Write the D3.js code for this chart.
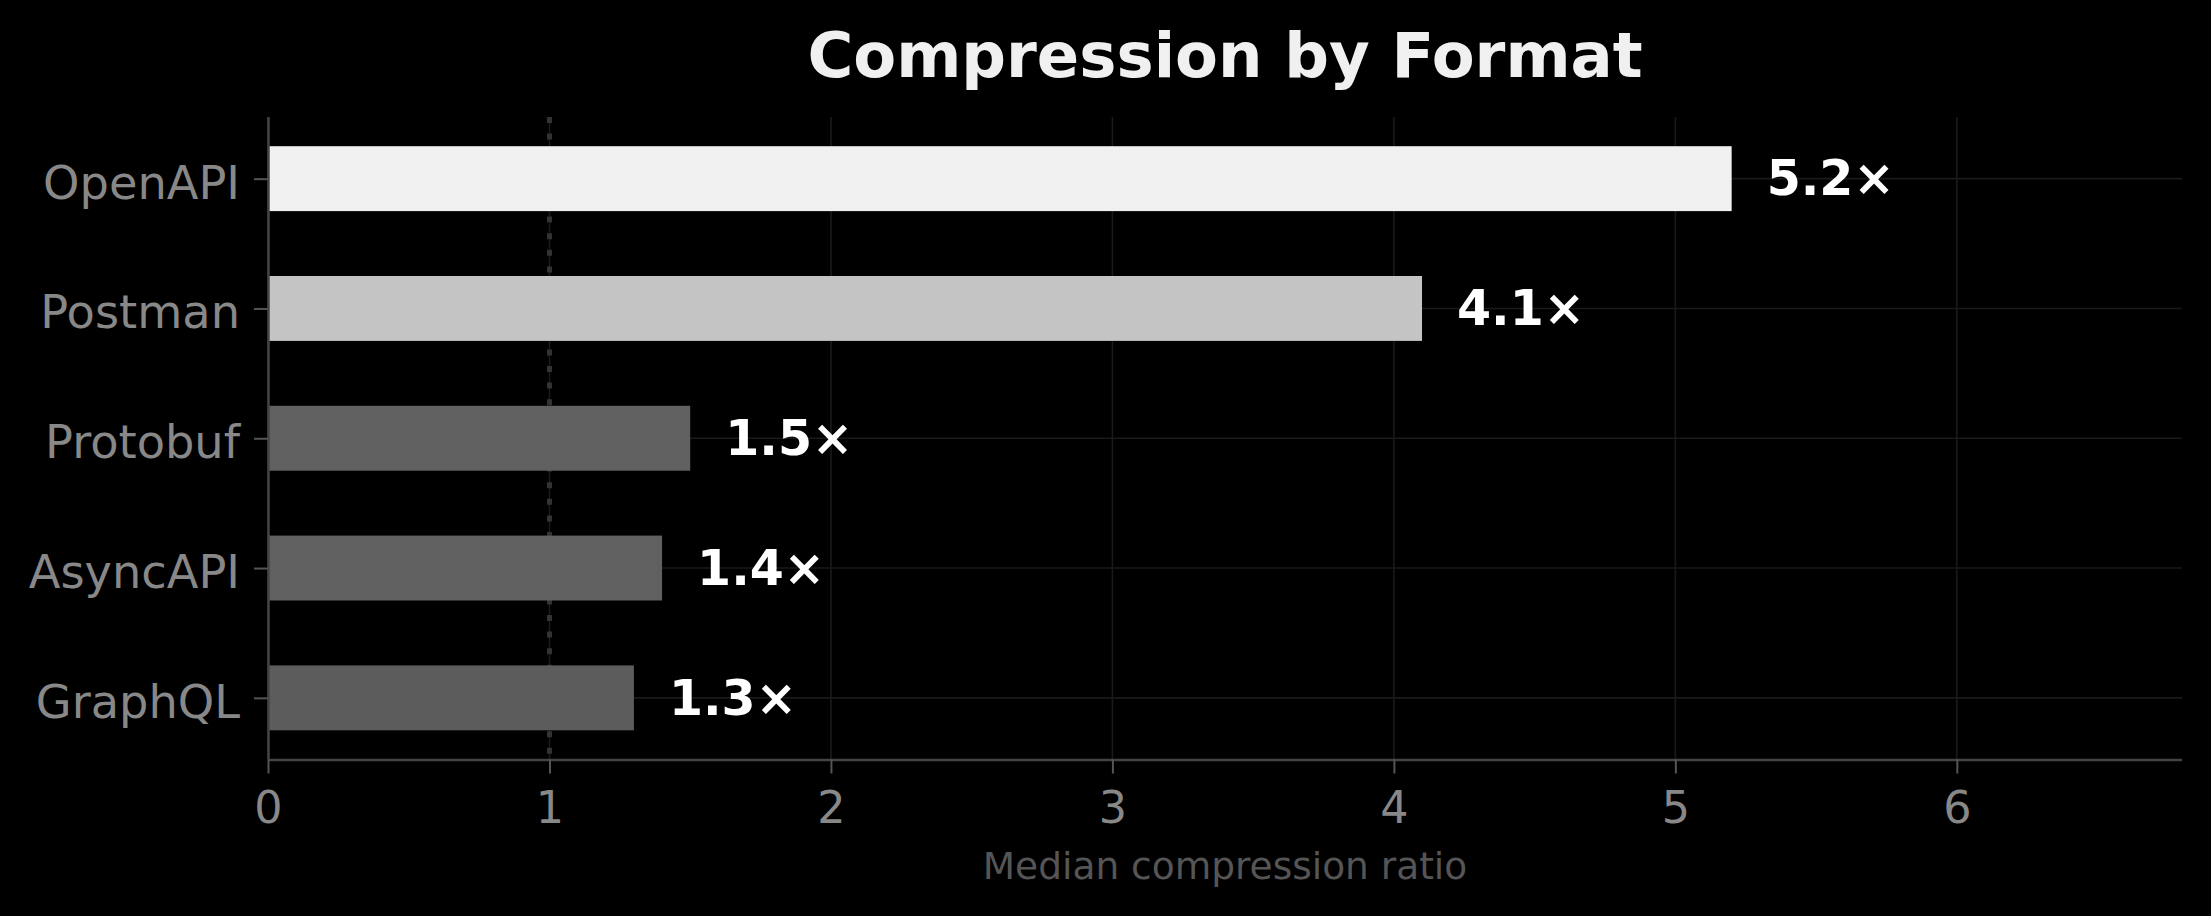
<!DOCTYPE html>
<html>
<head>
<meta charset="utf-8">
<script src="https://cdn.jsdelivr.net/npm/d3@7"></script>
<style>
  html, body { margin: 0; padding: 0; background: #000; }
  svg { display: block; }
  text { font-family: "DejaVu Sans", sans-serif; }
</style>
</head>
<body>
<script>
// ---- data ----
const categories = ["OpenAPI", "Postman", "Protobuf", "AsyncAPI", "GraphQL"];
const ratios = [5.2, 4.1, 1.5, 1.4, 1.3];
const xTicks = [0, 1, 2, 3, 4, 5, 6];
const valueLabels = ["5.2×", "4.1×", "1.5×", "1.4×", "1.3×"];
const titleText = "Compression by Format";
const xAxisLabel = "Median compression ratio";
const referenceValue = 1;

(function () {
// ---- layout ----
const W = 2211, H = 916;
const mLeft = 268, mRight = 2182, mTop = 117, mBottom = 759.5;

const svg = d3.select("body").append("svg")
  .attr("width", W).attr("height", H)
  .style("background", "#000");

const x = d3.scaleLinear().domain([0, 6.8]).range([mLeft, mRight]);
const y = d3.scaleLinear().domain([-0.475, categories.length - 1 + 0.475]).range([mTop, mBottom]);
const barH = y(0.25) - y(-0.25);

const color = d3.scaleOrdinal()
  .domain(categories)
  .range(["#f0f0f0", "#c4c4c4", "#606060", "#606060", "#5c5c5c"]);

// gridlines
const grid = svg.append("g");
grid.selectAll("line.vg").data(xTicks).join("line")
  .attr("class", "vg")
  .attr("x1", d => x(d)).attr("x2", d => x(d))
  .attr("y1", mTop).attr("y2", mBottom)
  .attr("stroke", "#1a1a1a").attr("stroke-width", 1.6);
grid.selectAll("line.hg").data(categories).join("line")
  .attr("class", "hg")
  .attr("x1", mLeft).attr("x2", mRight)
  .attr("y1", (d, i) => y(i)).attr("y2", (d, i) => y(i))
  .attr("stroke", "#1a1a1a").attr("stroke-width", 1.6);

// reference dotted line
svg.append("line")
  .attr("x1", x(referenceValue)).attr("x2", x(referenceValue))
  .attr("y1", mTop).attr("y2", mBottom)
  .attr("stroke", "#333").attr("stroke-width", 5)
  .attr("stroke-dasharray", "6 10.6");

// bars
svg.append("g").selectAll("rect").data(ratios).join("rect")
  .attr("x", x(0))
  .attr("y", (d, i) => y(i) - barH / 2)
  .attr("width", d => x(d) - x(0))
  .attr("height", barH)
  .attr("fill", (d, i) => color(categories[i]));

// value labels
svg.append("g").selectAll("text").data(ratios).join("text")
  .attr("x", d => x(d) + 35)
  .attr("y", (d, i) => y(i))
  .attr("dy", "0.34em")
  .attr("fill", "#ffffff")
  .attr("font-weight", "bold")
  .attr("font-size", 49)
  .text((d, i) => valueLabels[i]);

// x axis
const xAxis = d3.axisBottom(x).tickValues(xTicks).tickSize(14).tickPadding(14)
  .tickFormat(d3.format("d"));
const gx = svg.append("g").attr("transform", `translate(0,${mBottom})`).call(xAxis);
gx.select(".domain").attr("stroke", "#444").attr("stroke-width", 2.5)
  .attr("d", `M${mLeft},0.5H${mRight}`);
gx.selectAll(".tick line").attr("stroke", "#555").attr("stroke-width", 2);
gx.selectAll(".tick text").attr("fill", "#888").attr("font-size", 44.5)
  .attr("font-family", "DejaVu Sans").attr("dy", null)
  .attr("y", 823 - mBottom);

// y axis
const yAxis = d3.axisLeft(y).tickValues(d3.range(categories.length)).tickSize(14).tickPadding(14)
  .tickFormat(i => categories[i]);
const gy = svg.append("g").attr("transform", `translate(${mLeft},0)`).call(yAxis);
gy.select(".domain").attr("stroke", "#444").attr("stroke-width", 2.5)
  .attr("d", `M0.5,${mTop}V${mBottom}`);
gy.selectAll(".tick line").attr("stroke", "#555").attr("stroke-width", 2);
gy.selectAll(".tick text").attr("fill", "#888").attr("font-size", 46.3)
  .attr("font-family", "DejaVu Sans").attr("dy", "0.42em");

// title
svg.append("text")
  .attr("x", (mLeft + mRight) / 2).attr("y", 77)
  .attr("text-anchor", "middle")
  .attr("fill", "#f0f0f0")
  .attr("font-weight", "bold")
  .attr("font-size", 62.5)
  .text(titleText);

// axis label
svg.append("text")
  .attr("x", (mLeft + mRight) / 2).attr("y", 879)
  .attr("text-anchor", "middle")
  .attr("fill", "#555")
  .attr("font-size", 37.5)
  .text(xAxisLabel);
})();
</script>
</body>
</html>
